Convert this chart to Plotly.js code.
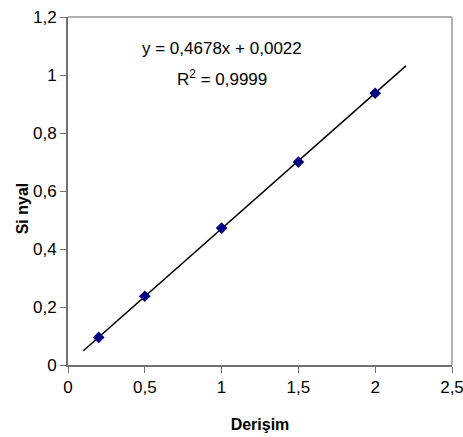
<!DOCTYPE html>
<html><head><meta charset="utf-8">
<script src="https://cdn.plot.ly/plotly-3.0.1.min.js"></script>
<style>html,body{margin:0;padding:0;background:#fff;}#c{width:463px;height:437px;}</style>
</head><body><div id="c"></div>
<script>
const concentration = [0.2, 0.5, 1, 1.5, 2];
const signal = [0.095, 0.237, 0.472, 0.70, 0.937];
const slope = 0.4678, intercept = 0.0022;
const trendX = [0.1, 2.2];
const trendY = trendX.map(x => slope * x + intercept);
const xTicks = [0, 0.5, 1, 1.5, 2, 2.5];
const xTickText = ['0', '0,5', '1', '1,5', '2', '2,5'];
const yTicks = [0, 0.2, 0.4, 0.6, 0.8, 1, 1.2];
const yTickText = ['0', '0,2', '0,4', '0,6', '0,8', '1', '1,2'];

const font = 'Liberation Sans, Arial, sans-serif';
const data = [
  {x: trendX, y: trendY, mode: 'lines', line: {color: '#000', width: 1.5}, hoverinfo: 'skip'},
  {x: concentration, y: signal, mode: 'markers',
   marker: {symbol: 'diamond', size: 9, color: '#000080', line: {width: 0}}}
];
const layout = {
  width: 463, height: 437, showlegend: false,
  paper_bgcolor: '#fff', plot_bgcolor: '#fff',
  margin: {l: 68, r: 11, t: 17, b: 72},
  font: {family: font, size: 17, color: '#000'},
  xaxis: {range: [0, 2.5], tickvals: xTicks, ticktext: xTickText,
    showgrid: false, zeroline: false, showline: true, linecolor: '#707070', linewidth: 2,
    ticks: 'outside', ticklen: 6, tickcolor: '#707070', tickwidth: 1, mirror: false,
    ticklabeloverflow: 'allow',
    tickfont: {family: font, size: 17},
    title: {text: '<b>Derişim</b>', font: {family: font, size: 16}, standoff: 22}},
  yaxis: {range: [0, 1.2], tickvals: yTicks, ticktext: yTickText,
    showgrid: false, zeroline: false, showline: true, linecolor: '#707070', linewidth: 2,
    ticks: 'outside', ticklen: 6, tickcolor: '#707070', tickwidth: 1,
    ticklabeloverflow: 'allow',
    tickfont: {family: font, size: 17}},
  shapes: [
    {type: 'line', xref: 'paper', yref: 'paper', x0: 0, x1: 1, y0: 1, y1: 1, line: {color: '#b0b0b0', width: 2}},
    {type: 'line', xref: 'paper', yref: 'paper', x0: 1, x1: 1, y0: 0, y1: 1, line: {color: '#b0b0b0', width: 2}}
  ],
  annotations: [
    {xref: 'x', yref: 'y', x: 1.0, y: 1.093, text: 'y = 0,4678x + 0,0022', showarrow: false,
     font: {family: font, size: 17}},
    {xref: 'x', yref: 'y', x: 1.0, y: 0.99, text: 'R<sup>2</sup> = 0,9999', showarrow: false,
     font: {family: font, size: 17}},
    {xref: 'paper', yref: 'paper', x: -0.12, y: 0.45, xanchor: 'center', yanchor: 'middle',
     textangle: -90, text: '<b>Si nyal</b>', showarrow: false, font: {family: font, size: 16}}
  ]
};
Plotly.newPlot('c', data, layout, {displayModeBar: false, staticPlot: true});
</script></body></html>
